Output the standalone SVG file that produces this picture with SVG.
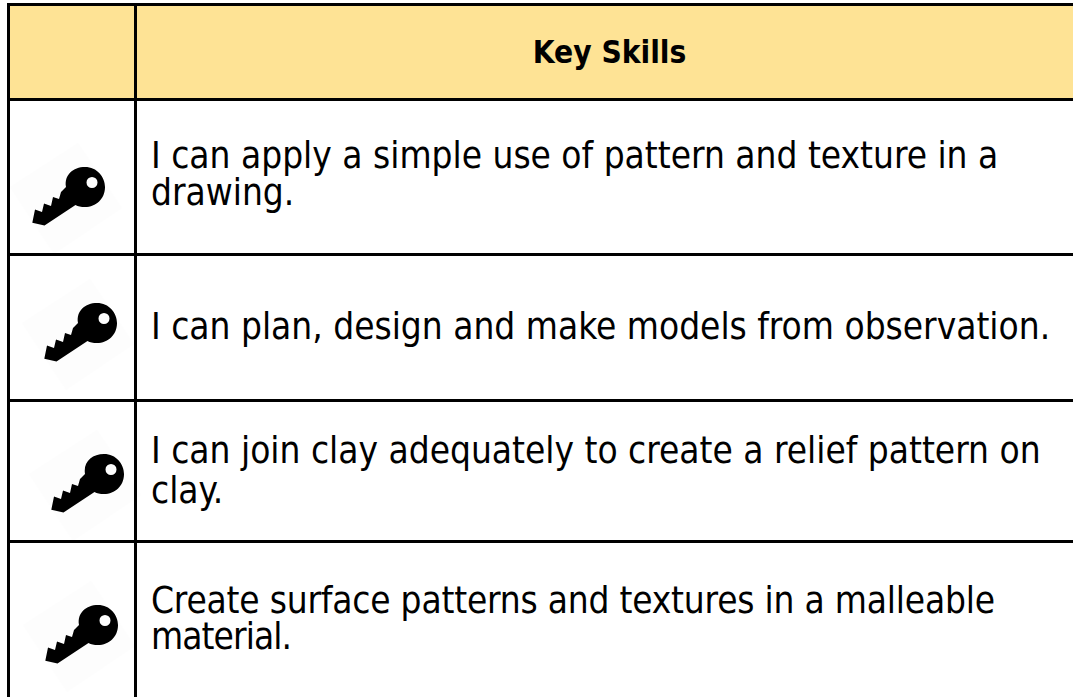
<svg xmlns="http://www.w3.org/2000/svg" width="1073" height="697" viewBox="0 0 1073 697">
<style>
.l{stroke:#000;fill:none}
.t{font-family:"DejaVu Sans Condensed","DejaVu Sans",sans-serif;font-stretch:condensed;font-size:36.700px;fill:#000}
.h{font-family:"DejaVu Sans Condensed","DejaVu Sans",sans-serif;font-stretch:condensed;font-size:31.400px;font-weight:bold;fill:#000}
.bg{fill:#fdfdfd}
</style>
<defs>
<g id="key">
<path class="bg" d="M10 187L78 143L122 208L54 254Z"/>
<path fill="#000" fill-rule="evenodd" d="M32.300 222.700L35 209.500L42 212L44 203.500L51 206L53 197L59 199L61 192L66 187C64 175 73 167 85 167C97 167 105 177 105 187C105 199 96 207 85 207C81 207 78 206.500 75.500 205L44.500 225.500ZM92 177A5.500 5.500 0 1 0 92 188A5.500 5.500 0 1 0 92 177Z"/>
</g>
</defs>
<rect x="8" y="3" width="1065" height="96" fill="#fee395"/>
<g id="key-1"><use href="#key"/></g>
<g id="key-2"><use href="#key" x="12" y="136"/></g>
<g id="key-3"><use href="#key" x="19" y="287"/></g>
<g id="key-4"><use href="#key" x="13" y="438"/></g>
<g id="grid">
<path class="l" stroke-width="3" d="M8 99.500H1073M8 254.500H1073M8 400.500H1073M8 541.500H1073"/>
<path class="l" stroke-width="3" d="M8 4.500H1073"/>
<path class="l" stroke-width="3" d="M8.500 3V697M135.500 3V697"/>
</g>
<g id="header"><text class="h" x="609.500" y="63" text-anchor="middle">Key Skills</text></g>
<g id="row-1"><text class="t" x="151" y="168">I can apply a simple use of pattern and texture in a</text><text class="t" x="151" y="205">drawing.</text></g>
<g id="row-2"><text class="t" x="151" y="339">I can plan, design and make models from observation.</text></g>
<g id="row-3"><text class="t" x="151" y="463">I can join clay adequately to create a relief pattern on</text><text class="t" x="151" y="503">clay.</text></g>
<g id="row-4"><text class="t" x="151" y="613" textLength="844">Create surface patterns and textures in a malleable</text><text class="t" x="151" y="649" textLength="141">material.</text></g>
</svg>
